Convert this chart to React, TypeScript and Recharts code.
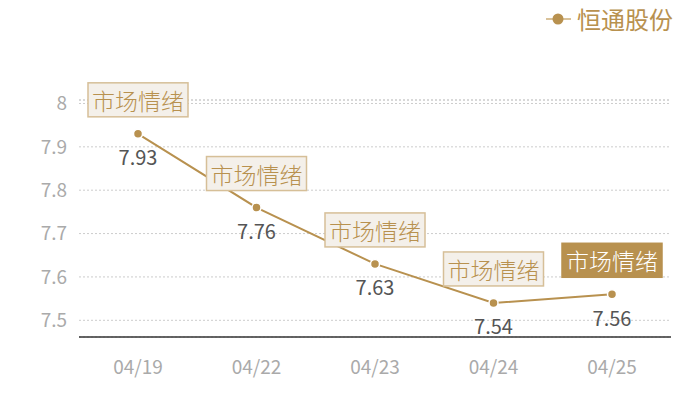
import React from "react";
import { LineChart, Line, XAxis, YAxis, CartesianGrid, LabelList, ReferenceLine } from "recharts";

const dates = ["04/19", "04/22", "04/23", "04/24", "04/25"];
const prices = [7.93, 7.76, 7.63, 7.54, 7.56];
const tagText = "市场情绪";
const yTicks = [7.5, 7.6, 7.7, 7.8, 7.9, 8];
const yMin = 7.4615;
const yMax = 8.008;
const seriesName = "恒通股份";

const data = dates.map((d, i) => ({ date: d, price: prices[i] }));

const GOLD = "#b8914f";
const FONT = "'Noto Sans CJK SC', 'Noto Sans', sans-serif";

const TagLabel = (props: any) => {
  const { x, y, index } = props;
  const last = index === prices.length - 1;
  const w = 100;
  const h = 34;
  return (
    <g>
      <rect
        x={x - w / 2}
        y={y - 17 - h}
        width={w}
        height={h}
        fill={last ? GOLD : "#f4f0ea"}
        stroke={last ? GOLD : "#d6bf98"}
        strokeWidth={1.5}
      />
      <text
        x={x}
        y={y - 17 - h / 2}
        textAnchor="middle"
        dominantBaseline="central"
        fontSize={23}
        fontFamily={FONT}
        fontWeight={300}
        fill={last ? "#ffffff" : GOLD}
      >
        {tagText}
      </text>
    </g>
  );
};

const ValueLabel = (props: any) => {
  const { x, y, value } = props;
  return (
    <text
      x={x}
      y={y + 23}
      textAnchor="middle"
      dominantBaseline="central"
      fontSize={20}
      fontFamily={FONT}
      fill="#555555"
    >
      {value}
    </text>
  );
};

export default function App() {
  return (
    <div style={{ position: "absolute", left: 0, top: 0, width: 700, height: 400, background: "#fff" }}>
      <LineChart width={700} height={400} data={data} margin={{ top: 100, right: 29, bottom: 0, left: 0 }}>
        <CartesianGrid vertical={false} stroke="#cccccc" strokeDasharray="2 2" />
        <ReferenceLine y={yMax} stroke="#cccccc" strokeDasharray="2 2" />
        <XAxis
          dataKey="date"
          height={63}
          padding={{ left: 59, right: 59 }}
          axisLine={{ stroke: "#333333", strokeWidth: 1.5 }}
          tickLine={false}
          tickSize={0}
          tickMargin={24}
          tick={{ fill: "#aaaaaa", fontSize: 19, fontFamily: FONT }}
        />
        <YAxis
          width={79}
          domain={[yMin, yMax]}
          ticks={yTicks}
          allowDataOverflow
          axisLine={false}
          tickLine={false}
          tickSize={0}
          tickMargin={12}
          tickFormatter={(v: number) => String(v)}
          tick={{ fill: "#aaaaaa", fontSize: 19, fontFamily: FONT }}
        />
        <Line
          type="linear"
          dataKey="price"
          stroke={GOLD}
          strokeWidth={2}
          dot={{ r: 4.5, fill: GOLD, stroke: "#ffffff", strokeWidth: 1.5 }}
          isAnimationActive={false}
        >
          <LabelList dataKey="price" content={<TagLabel />} />
          <LabelList dataKey="price" content={<ValueLabel />} />
        </Line>
      </LineChart>
      <div
        style={{
          position: "absolute",
          top: 1,
          right: 27,
          display: "flex",
          alignItems: "center",
          fontFamily: FONT,
          fontSize: 24,
          color: GOLD,
        }}
      >
        <svg width={25} height={14} style={{ marginRight: 6 }}>
          <line x1={0} y1={7} x2={25} y2={7} stroke="#d9c29a" strokeWidth={2} />
          <circle cx={12} cy={7} r={5.5} fill={GOLD} />
        </svg>
        <span>{seriesName}</span>
      </div>
    </div>
  );
}
